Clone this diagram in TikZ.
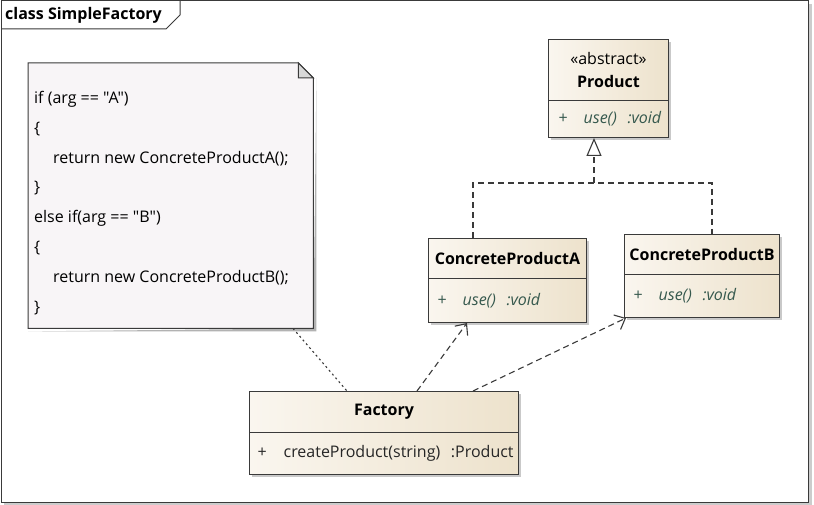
\documentclass[tikz,border=0pt]{standalone}
\usepackage{fontspec}
\setmainfont{Open Sans}
\newfontfamily\plainfnt{Open Sans}
\usetikzlibrary{arrows.meta,shadows}
\definecolor{boxL}{HTML}{FAF6EF}
\definecolor{boxR}{HTML}{EDE2CC}
\definecolor{opc}{HTML}{35584D}
\definecolor{edgec}{HTML}{3A3A3A}
\definecolor{notefill}{HTML}{F8F5F7}
\definecolor{foldc}{HTML}{D8D8D8}
\newcommand{\opfnt}{\color{opc}\itshape}
\newcommand{\opline}[1]{\mbox{\textcolor{opc}{+}\hspace{16pt}{\opfnt #1}}}
\begin{document}
\begin{tikzpicture}[x=1pt,y=-1pt,
  font=\fontsize{16}{19}\selectfont,
  clsbase/.style={draw=edgec, line width=1pt, left color=boxL, right color=boxR,
    inner ysep=0pt, anchor=north west,
    drop shadow={shadow xshift=2.5pt, shadow yshift=-2.5pt, fill=black!35, opacity=0.6}},
  hdr/.style={clsbase, align=center, inner xsep=0pt},
  ops/.style={clsbase, align=left, inner xsep=9pt},
  depline/.style={draw=edgec, line width=1.1pt, dash pattern=on 6pt off 4pt},
  deparrow/.style={depline, -{Straight Barb[length=9pt,width=16pt,line width=1.1pt]}},
  genline/.style={draw=edgec, line width=1.7pt, dash pattern=on 6pt off 4pt,
    -{Triangle[open,length=18pt,width=15pt,line width=1.1pt,fill=white]}},
  noteline/.style={draw=edgec, line width=1.1pt, dash pattern=on 2pt off 3pt},
]
\useasboundingbox (0,0) rectangle (814,505);
\fill[white] (0,0) rectangle (814,505);

% outer frame
\draw[black!20, line width=2.5pt] (810.5,4) -- (810.5,504) -- (4,504);
\draw[edgec, line width=1pt] (1,1) rectangle (808,502);
\draw[edgec, line width=1pt] (1,29) -- (166,29) -- (180,15) -- (180,1);
\node[anchor=west, inner sep=0pt, font=\fontsize{16}{19}\selectfont\bfseries] (title) at (5,15) {class SimpleFactory};

% note
\node[anchor=north west, minimum width=285pt, minimum height=265pt, inner sep=0pt] (note) at (28,63) {};
\fill[black!30] ([xshift=3pt,yshift=-15pt]note.north east) -- ([xshift=3pt,yshift=-3pt]note.south east) -- ([xshift=3pt,yshift=-3pt]note.south west) -- ([yshift=-3pt]note.south west) -- (note.south east) -- cycle;
\filldraw[draw=edgec, line width=1pt, fill=notefill]
  (note.north west) -- ([xshift=-15pt]note.north east) -- ([yshift=-15pt]note.north east)
  -- (note.south east) -- (note.south west) -- cycle;
\filldraw[draw=edgec, line width=1pt, fill=foldc]
  ([xshift=-15pt]note.north east) -- ([yshift=-15pt]note.north east) -- ([xshift=-15pt,yshift=-15pt]note.north east) -- cycle;
\node[anchor=north west, align=left, inner sep=0pt, font=\fontsize{16}{29.8}\plainfnt] (notetxt) at (34,91)
 {if (arg == "A")\\
  \{\\
  \hspace*{19pt}return new ConcreteProductA();\\
  \}\\
  else if(arg == "B")\\
  \{\\
  \hspace*{19pt}return new ConcreteProductB();\\
  \}};

% Product
\node[hdr, minimum width=120pt, minimum height=61pt] (ph) at (548,39)
  {«abstract»\\[4pt]\textbf{Product}};
\node[ops, inner xsep=10pt, text width=100pt, minimum height=37pt] (po) at (548,100)
  {\opline{use()~~:void}};

% ConcreteProductA
\node[hdr, minimum width=158pt, minimum height=40pt] (ah) at (428,238)
  {\textbf{ConcreteProductA}};
\node[ops, text width=140pt, minimum height=44pt] (ao) at (428,278)
  {\opline{use()~~:void}};

% ConcreteProductB
\node[hdr, minimum width=155pt, minimum height=40pt] (bh) at (624,234)
  {\textbf{ConcreteProductB}};
\node[ops, text width=137pt, minimum height=43pt] (bo) at (624,274)
  {\opline{use()~~:void}};

% Factory
\node[ops, inner xsep=8pt, text width=253pt, minimum height=41pt, align=center] (fh) at (249,391)
  {\textbf{Factory}};
\node[ops, inner xsep=8pt, text width=253pt, minimum height=42pt] (fo) at (249,432)
  {\mbox{\textcolor{black!85}{+\hspace{17pt}createProduct(string)~~:Product}}};

% generalization
\coordinate (j) at (594,183);
\draw[depline] ([xshift=45pt]ah.north west) |- (j) -| ([xshift=88pt]bh.north west);
\draw[genline] (j) -- ([xshift=46pt]po.south west);

% dependencies
\draw[deparrow] ([xshift=168pt]fh.north west) -- ([xshift=39pt]ao.south west);
\draw[deparrow] ([xshift=224pt]fh.north west) -- ([xshift=2pt]bo.south west);
\draw[noteline] ([xshift=265pt]note.south west) -- ([xshift=98pt]fh.north west);
\end{tikzpicture}
\end{document}
